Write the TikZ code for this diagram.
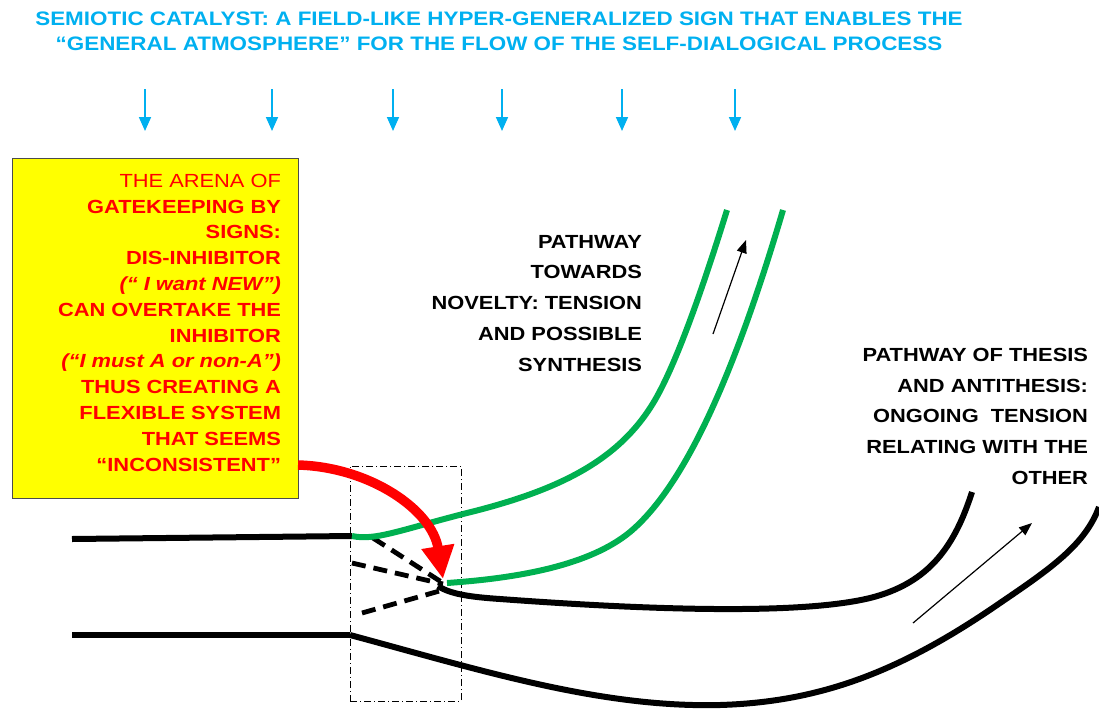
\documentclass[tikz,border=0pt]{standalone}
\usepackage{fontspec}
\setmainfont[FakeStretch=1.15]{Liberation Sans}
\usetikzlibrary{arrows.meta}
\definecolor{skyblue}{RGB}{0,176,240}
\definecolor{pgreen}{RGB}{0,176,80}
\definecolor{pyellow}{RGB}{255,255,0}
\definecolor{pred}{RGB}{255,0,0}
\tikzset{
  lbl/.style={inner sep=0pt, outer sep=0pt, font=\fontsize{19}{30.8}\selectfont\bfseries},
  blk/.style={line width=6pt, black},
  grn/.style={line width=6pt, pgreen},
  dsh/.style={line width=4.8pt, black, dash pattern=on 14pt off 8pt},
  bluearr/.style={line width=1.7pt, skyblue, -{Triangle[width=12pt,length=14pt]}},
  smallarr/.style={line width=1.2pt, black, -{Triangle[width=10pt,length=13pt]}},
}
\begin{document}
\begin{tikzpicture}[x=1pt,y=-1pt]
\useasboundingbox (0,0) rectangle (1099,709);

% title
\node[lbl, skyblue, anchor=north, align=center, font=\fontsize{19.5}{25}\selectfont\bfseries] (title) at (499,12)
  {SEMIOTIC CATALYST: A FIELD-LIKE HYPER-GENERALIZED SIGN THAT ENABLES THE\\
   “GENERAL ATMOSPHERE” FOR THE FLOW OF THE SELF-DIALOGICAL PROCESS};

% blue arrows
\foreach \x in {145,272,393,502,622,735}
  \draw[bluearr] (\x,89) -- (\x,131);

% yellow box
\node[draw=black!70, line width=1pt, fill=pyellow, minimum width=286pt, minimum height=340pt, inner sep=0pt] (arena) at (155,328) {};
\node[lbl, pred, anchor=north east, align=right, font=\fontsize{19}{25.8}\selectfont\bfseries] (arenatext) at (281,174)
  {{\mdseries THE ARENA OF}\\
   GATEKEEPING BY\\
   SIGNS:\\
   DIS-INHIBITOR\\
   \textit{(“ I want NEW”)}\\
   CAN OVERTAKE THE\\
   INHIBITOR\\
   \textit{(“I must A or non-A”)}\\
   THUS CREATING A\\
   FLEXIBLE SYSTEM\\
   THAT SEEMS\\
   “INCONSISTENT”};

% labels
\node[lbl, anchor=north east, align=right] (novelty) at (642,235)
  {PATHWAY\\ TOWARDS\\ NOVELTY: TENSION\\ AND POSSIBLE\\ SYNTHESIS};
\node[lbl, anchor=north east, align=right] (thesis) at (1088,348)
  {PATHWAY OF THESIS\\ AND ANTITHESIS:\\ ONGOING\ \ TENSION\\ RELATING WITH THE\\ OTHER};

% dash-dot window
\node[draw, line width=0.8pt, dash pattern=on 7pt off 3pt on 1pt off 3pt, minimum width=111pt, minimum height=235pt, inner sep=0pt] (gate) at (405.5,583.5) {};

% incoming lines
\coordinate (topin) at (352,536);
\coordinate (botin) at (350,635);
\draw[blk] (72,539) -- (topin);
\draw[blk] (72,635) -- (botin);

% junction
\coordinate (junc) at (443,583);

% dashed lines
\draw[dsh] (373,538) -- (junc);
\draw[dsh] (352,563) -- (443,584);
\draw[dsh] (362,613) -- (443,590);

% green pathways
\draw[grn] (topin) .. controls (375,541) and (400,530) .. (467,513)
  .. controls (560,490) and (620,460) .. (655,400)
  .. controls (680,357) and (710,265) .. (727,210);
\draw[grn] (447,583) .. controls (520,578) and (590,565) .. (630,532)
  .. controls (680,490) and (730,390) .. (783,210);

% black pathways
\draw[blk] (438,586) .. controls (450,594) and (470,597) .. (500,599)
  .. controls (650,610) and (800,615) .. (870,598)
  .. controls (930,583) and (955,545) .. (972,492);
\draw[blk] (botin) .. controls (480,670) and (600,708) .. (720,705)
  .. controls (820,702) and (900,672) .. (1000,603)
  .. controls (1050,569) and (1085,545) .. (1099,507);

% direction arrows
\draw[smallarr] (713,334) -- (746,240);
\draw[smallarr] (913,623) -- (1032,523);

% red arrow
\coordinate (redstart) at (298,465);
\draw[pred, line width=9.5pt, -{Triangle[width=31pt,length=33pt]}] (redstart) .. controls (370,467) and (432,510) .. (443,579);
\end{tikzpicture}
\end{document}
